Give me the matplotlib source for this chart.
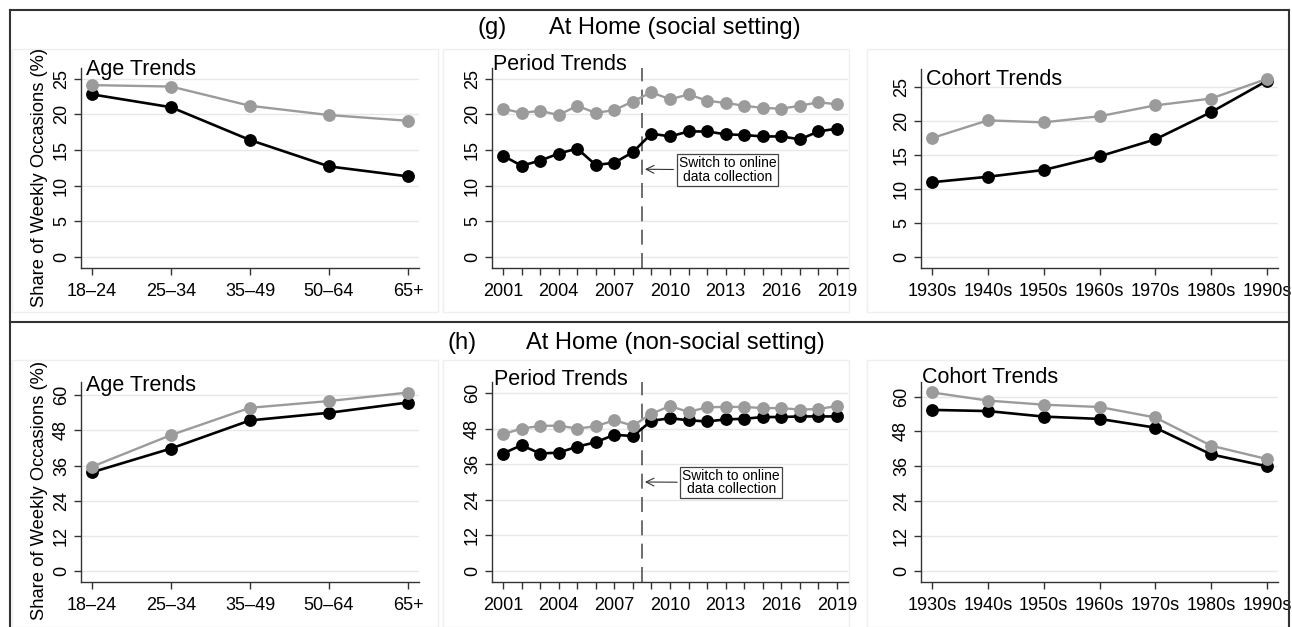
import matplotlib
matplotlib.use('Agg')
import matplotlib.pyplot as plt
from matplotlib.lines import Line2D
from matplotlib.patches import Rectangle

plt.rcParams['font.family'] = ['Liberation Sans', 'DejaVu Sans']

age_labels = ['18–24', '25–34', '35–49', '50–64', '65+']
years = list(range(2001, 2020))
cohort_labels = ['1930s', '1940s', '1950s', '1960s', '1970s', '1980s', '1990s']

# (g) at home, social setting
social_age_gray = [24.1, 23.9, 21.2, 19.9, 19.1]
social_age_black = [22.8, 21.0, 16.4, 12.7, 11.3]
social_period_gray = [20.8, 20.2, 20.5, 19.9, 21.2, 20.2, 20.6, 21.8, 23.1, 22.1,
                      22.8, 21.9, 21.6, 21.2, 20.9, 20.8, 21.2, 21.7, 21.4]
social_period_black = [14.2, 12.8, 13.5, 14.5, 15.2, 12.9, 13.2, 14.7, 17.3, 16.9,
                       17.6, 17.6, 17.2, 17.1, 16.9, 16.9, 16.5, 17.6, 18.0]
social_cohort_gray = [17.5, 20.1, 19.8, 20.7, 22.3, 23.3, 26.2]
social_cohort_black = [11.0, 11.8, 12.8, 14.8, 17.3, 21.3, 25.9]

# (h) at home, non-social setting
nonsocial_age_gray = [35.6, 46.4, 55.7, 58.0, 60.9]
nonsocial_age_black = [33.7, 41.8, 51.4, 54.0, 57.5]
nonsocial_period_gray = [46.1, 48.0, 48.9, 49.0, 48.0, 48.8, 50.8, 49.0, 53.0, 55.6,
                         53.6, 55.2, 55.3, 55.3, 54.9, 54.9, 54.4, 54.6, 55.6]
nonsocial_period_black = [39.6, 42.4, 39.6, 39.9, 41.9, 43.4, 45.9, 45.5, 50.6, 51.5,
                          50.8, 50.4, 51.1, 51.3, 51.9, 51.9, 52.1, 52.1, 52.1]
nonsocial_cohort_gray = [61.4, 58.6, 57.2, 56.4, 52.8, 43.1, 38.5]
nonsocial_cohort_black = [55.4, 55.0, 53.1, 52.3, 49.3, 40.1, 36.0]

switch_year = 2008.5

W, H = 1292, 627
fig = plt.figure(figsize=(W / 100, H / 100), dpi=100)


def rect(x0, y0, x1, y1):
    # pixel box measured from the top-left corner
    return [x0 / W, 1 - y1 / H, (x1 - x0) / W, (y1 - y0) / H]


def line(x0, y0, x1, y1, **kw):
    fig.add_artist(Line2D([x0 / W, x1 / W], [1 - y0 / H, 1 - y1 / H],
                          transform=fig.transFigure, **kw))


# faint panel outlines
for (x0, y0, x1, y1) in [(12, 49, 438, 312), (443, 49, 849, 312), (867, 49, 1288, 312),
                         (12, 360, 438, 627), (443, 360, 849, 627), (867, 360, 1288, 627)]:
    fig.add_artist(Rectangle((x0 / W, 1 - y1 / H), (x1 - x0) / W, (y1 - y0) / H,
                             transform=fig.transFigure, fill=False, ec='#efefef', lw=1,
                             zorder=-1))

# outer frame
line(10, 10, 1289, 10, color='#333333', lw=1.5)
line(10, 10, 10, 640, color='#333333', lw=1.5)
line(1289, 10, 1289, 640, color='#333333', lw=1.5)
line(10, 322, 1289, 322, color='#333333', lw=1.5)

# block titles
fig.text(492 / W, 1 - 28 / H, '(g)', ha='center', va='center', fontsize=17)
fig.text(675 / W, 1 - 28 / H, 'At Home (social setting)', ha='center', va='center', fontsize=17)
fig.text(462 / W, 1 - 343 / H, '(h)', ha='center', va='center', fontsize=17)
fig.text(675 / W, 1 - 343 / H, 'At Home (non-social setting)', ha='center', va='center', fontsize=17)

for yc in (177.5, 490):
    fig.text(40 / W, 1 - yc / H, 'Share of Weekly Occasions (%)', rotation=90,
             ha='center', va='center', fontsize=13.2)


def panel(box, x, gray, black, xlim, ylim, yticks, title, tpos):
    ax = fig.add_axes(rect(*box))
    ax.plot(x, black, color='black', lw=1.9, marker='o', ms=8.2, zorder=3, clip_on=False)
    ax.plot(x, gray, color='#9b9b9b', lw=1.7, marker='o', ms=8.2, zorder=4, clip_on=False)
    ax.set_xlim(*xlim)
    ax.set_ylim(*ylim)
    ax.set_yticks(yticks)
    ax.grid(axis='y', color='#e8e8e8', lw=1)
    ax.set_axisbelow(True)
    ax.spines[['top', 'right']].set_visible(False)
    for s in ('left', 'bottom'):
        ax.spines[s].set_color('#333333')
        ax.spines[s].set_linewidth(1)
    ax.tick_params(axis='both', which='both', length=5, width=1, color='#333333',
                   labelsize=13)
    ax.tick_params(axis='x', pad=6)
    ax.tick_params(axis='y', pad=3)
    for lab in ax.get_yticklabels():
        lab.set_rotation(90)
        lab.set_va('center')
    ax.text(tpos[0], tpos[1], title, transform=ax.transAxes, fontsize=15.5,
            ha='left', va='baseline')
    return ax


def age_panel(box, gray, black, ylim, yticks, tpos):
    ax = panel(box, range(len(age_labels)), gray, black, (-0.14, 4.14), ylim, yticks,
               'Age Trends', tpos)
    ax.set_xticks(range(len(age_labels)))
    ax.set_xticklabels(age_labels)


def cohort_panel(box, gray, black, ylim, yticks, tpos):
    ax = panel(box, range(len(cohort_labels)), gray, black, (-0.2, 6.2), ylim, yticks,
               'Cohort Trends', tpos)
    ax.set_xticks(range(len(cohort_labels)))
    ax.set_xticklabels(cohort_labels)


def period_panel(box, gray, black, ylim, yticks, tpos, note_xy, note_text_xy):
    ax = panel(box, years, gray, black, (2000.41, 2019.59), ylim, yticks,
               'Period Trends', tpos)
    ax.set_xticks(years[::3])
    ax.set_xticks(years, minor=True)
    ax.axvline(switch_year, color='#555555', lw=1.2, dashes=(9, 5), zorder=2)
    ax.annotate('Switch to online\ndata collection', xy=note_xy, xytext=note_text_xy,
                ha='center', va='center', fontsize=10, linespacing=0.95,
                bbox=dict(boxstyle='square,pad=0.15', fc='white', ec='#444444', lw=0.9),
                arrowprops=dict(arrowstyle='->', color='#333333', lw=0.8,
                                shrinkA=2, shrinkB=0, mutation_scale=14))


age_panel((81, 68, 419, 268), social_age_gray, social_age_black,
          (-1.55, 26.5), range(0, 26, 5), (0.015, 0.965))
period_panel((492, 68, 848, 268), social_period_gray, social_period_black,
             (-1.55, 26.5), range(0, 26, 5), (0.003, 0.99), (2008.65, 12.3), (2013.1, 12.2))
cohort_panel((921, 69, 1278, 268), social_cohort_gray, social_cohort_black,
             (-1.62, 27.65), range(0, 26, 5), (0.014, 0.92))

age_panel((81, 382, 419, 582), nonsocial_age_gray, nonsocial_age_black,
          (-3.75, 64.5), range(0, 61, 12), (0.015, 0.955))
period_panel((492, 382, 848, 582), nonsocial_period_gray, nonsocial_period_black,
             (-3.7, 63.7), range(0, 61, 12), (0.006, 0.985), (2008.65, 30.0), (2013.3, 29.8))
cohort_panel((921, 382, 1278, 582), nonsocial_cohort_gray, nonsocial_cohort_black,
             (-3.8, 65), range(0, 61, 12), (0.003, 0.997))

fig.savefig('out.png', dpi=100)
